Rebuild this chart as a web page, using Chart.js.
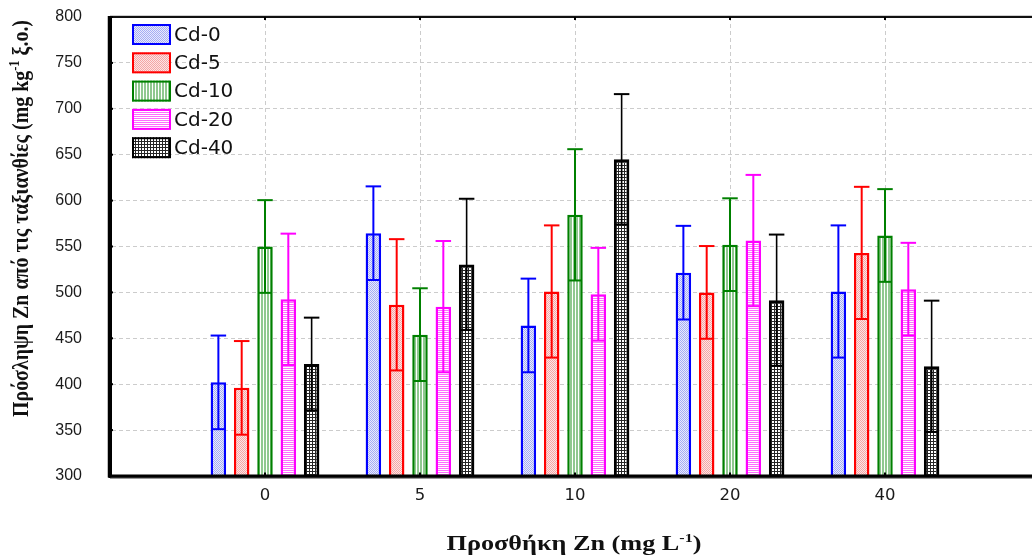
<!DOCTYPE html>
<html><head><meta charset="utf-8">
<script src="https://cdn.jsdelivr.net/npm/chart.js@4"></script>
<style>html,body{margin:0;padding:0;overflow:hidden;background:#fff}
#wrap{position:relative;width:1040px;height:556px}</style></head>
<body><div id="wrap"><canvas id="c" width="1040" height="556"></canvas></div>
<script>
// ---- data ----
const categories = ['0', '5', '10', '20', '40'];
const seriesNames = ['Cd-0', 'Cd-5', 'Cd-10', 'Cd-20', 'Cd-40'];
const cd0    = [402, 564.5, 464, 521.5, 501];
const cd0Err = [51, 51, 51, 51, 72];
const cd5    = [396, 486.5, 501, 500, 543];
const cd5Err = [51, 71.5, 72, 50.5, 72];
const cd10    = [550, 454, 584.5, 552, 562];
const cd10Err = [50.5, 50.5, 71.5, 50.5, 50.5];
const cd20    = [492.5, 484.5, 498, 556.5, 503.5];
const cd20Err = [71.5, 71.5, 50.5, 71.5, 50.5];
const cd40    = [422, 530.5, 645, 491.5, 419.5];
const cd40Err = [50.5, 71.5, 71, 71.5, 71.5];
const yMin = 300, yMax = 800, yStep = 50;
const xTitleParts = [['Προσθήκη Zn (mg L', false], ['-1', true], [')', false]];
const yTitleParts = [['Πρόσληψη Zn από τις ταξιανθίες (mg kg', false], ['-1', true], [' ξ.ο.)', false]];

// ---- styling ----
const canvas = document.getElementById('c');
const mainCtx = canvas.getContext('2d');
function makePattern(w, h, fn) {
  const c = document.createElement('canvas'); c.width = w; c.height = h;
  const g = c.getContext('2d'); fn(g); return mainCtx.createPattern(c, 'repeat');
}
const patBlue = makePattern(2, 2, g => { g.fillStyle = '#e8eafd'; g.fillRect(0,0,2,2); g.fillStyle = '#a6adf3'; g.fillRect(0,0,1,1); g.fillRect(1,1,1,1); });
const patRed = makePattern(2, 2, g => { g.fillStyle = '#fde4e4'; g.fillRect(0,0,2,2); g.fillStyle = '#f4a6a6'; g.fillRect(0,0,1,1); g.fillRect(1,1,1,1); });
const patGreen = makePattern(3, 1, g => { g.fillStyle = '#ffffff'; g.fillRect(0,0,3,1); g.fillStyle = '#90c890'; g.fillRect(0,0,2,1); });
const patMag = makePattern(1, 2, g => { g.fillStyle = '#ffffff'; g.fillRect(0,0,1,2); g.fillStyle = '#ff6cff'; g.fillRect(0,0,1,1); });
const patBlack = makePattern(3, 3, g => { g.fillStyle = '#262626'; g.fillRect(0,0,3,3); g.fillStyle = '#ffffff'; g.fillRect(1,1,2,2); });

const colors = ['#0000ff', '#ff0000', '#008000', '#ff00ff', '#000000'];
const fills = [patBlue, patRed, patGreen, patMag, patBlack];
const values = [cd0, cd5, cd10, cd20, cd40];
const errs = [cd0Err, cd5Err, cd10Err, cd20Err, cd40Err];

const xLabels = [''].concat(categories, ['']);
const pad = arr => [null].concat(arr, [null]);

const datasets = seriesNames.map((name, i) => ({
  label: name,
  data: pad(values[i]),
  errors: pad(errs[i]),
  backgroundColor: fills[i],
  borderColor: colors[i],
  borderWidth: i === 4 ? 3 : 2.5,
  borderSkipped: 'start',
  categoryPercentage: 0.752,
  barPercentage: 0.665
}));

function drawRich(ctx, parts, cx, baseY, targetLen, rotate, size, supSize, raise) {
  const mainFont = 'bold ' + size + 'px "Liberation Serif", "Times New Roman", serif';
  const supFont = 'bold ' + supSize + 'px "Liberation Serif", "Times New Roman", serif';
  let total = 0;
  const widths = parts.map(p => { ctx.font = p[1] ? supFont : mainFont; const w = ctx.measureText(p[0]).width; total += w; return w; });
  ctx.save();
  ctx.translate(cx, baseY);
  if (rotate) ctx.rotate(-Math.PI / 2);
  ctx.scale(targetLen / total, 1);
  ctx.fillStyle = '#111';
  ctx.textBaseline = 'alphabetic';
  ctx.textAlign = 'left';
  let x = -total / 2;
  parts.forEach((p, k) => {
    ctx.font = p[1] ? supFont : mainFont;
    ctx.fillText(p[0], x, p[1] ? -raise : 0);
    x += widths[k];
  });
  ctx.restore();
}

const decor = {
  id: 'decor',
  beforeDatasetsDraw(chart) {
    const ctx = chart.ctx, xs = chart.scales.x, a = chart.chartArea;
    ctx.save();
    ctx.strokeStyle = '#cccccc'; ctx.lineWidth = 1; ctx.setLineDash([4, 3]);
    for (let k = 1; k <= categories.length; k++) {
      const x = Math.round(xs.getPixelForTick(k)) + 0.5;
      ctx.beginPath(); ctx.moveTo(x, a.top); ctx.lineTo(x, a.bottom); ctx.stroke();
    }
    ctx.restore();
  },
  afterDatasetsDraw(chart) {
    const ctx = chart.ctx, ys = chart.scales.y, xs = chart.scales.x, a = chart.chartArea;
    chart.data.datasets.forEach((ds, i) => {
      const meta = chart.getDatasetMeta(i);
      meta.data.forEach((el, j) => {
        const v = ds.data[j], e = ds.errors[j];
        if (v == null) return;
        const x = el.x, w = el.width;
        const yt = ys.getPixelForValue(v + e), yb = ys.getPixelForValue(v - e);
        ctx.save();
        ctx.strokeStyle = ds.borderColor;
        ctx.lineWidth = i === 4 ? 1.6 : 2;
        ctx.beginPath(); ctx.moveTo(x, yb); ctx.lineTo(x, yt); ctx.stroke();
        ctx.lineWidth = 2;
        ctx.beginPath(); ctx.moveTo(x - w / 2, yt); ctx.lineTo(x + w / 2, yt); ctx.stroke();
        ctx.beginPath(); ctx.moveTo(x - w / 2 + 1, yb); ctx.lineTo(x + w / 2 - 1, yb); ctx.stroke();
        ctx.restore();
      });
    });
    ctx.save();
    ctx.strokeStyle = '#cfcfcf'; ctx.lineWidth = 1;
    ctx.beginPath(); ctx.moveTo(a.left, a.top - 1.5); ctx.lineTo(a.right, a.top - 1.5); ctx.stroke();
    ctx.strokeStyle = '#111'; ctx.lineWidth = 2;
    ctx.beginPath(); ctx.moveTo(a.left, a.top); ctx.lineTo(a.right, a.top); ctx.stroke();
    ctx.strokeStyle = '#9a9a9a'; ctx.lineWidth = 1.5;
    ctx.beginPath(); ctx.moveTo(a.left, a.bottom + 2.2); ctx.lineTo(a.right, a.bottom + 2.2); ctx.stroke();
    ctx.strokeStyle = '#000'; ctx.lineWidth = 2.8;
    ctx.beginPath(); ctx.moveTo(a.left - 2, a.bottom); ctx.lineTo(a.right, a.bottom); ctx.stroke();
    ctx.lineWidth = 3.5;
    ctx.beginPath(); ctx.moveTo(a.left - 0.5, a.top - 1); ctx.lineTo(a.left - 0.5, a.bottom + 1.5); ctx.stroke();
    ctx.lineWidth = 2;
    ys.ticks.forEach((t, k) => {
      const y = ys.getPixelForTick(k);
      ctx.beginPath(); ctx.moveTo(a.left, y); ctx.lineTo(a.left + 3, y); ctx.stroke();
    });
    for (let k = 1; k <= categories.length; k++) {
      const x = xs.getPixelForTick(k);
      ctx.beginPath(); ctx.moveTo(x, a.bottom); ctx.lineTo(x, a.bottom - 3.5); ctx.stroke();
      ctx.beginPath(); ctx.moveTo(x, a.top); ctx.lineTo(x, a.top + 3); ctx.stroke();
    }
    ctx.restore();
  },
  afterDraw(chart) {
    const ctx = chart.ctx;
    ctx.save();
    chart.data.datasets.forEach((ds, i) => {
      const bx = 132, by = 24 + i * 28.3, bw = 39, bh = 21;
      ctx.fillStyle = '#fff';
      ctx.fillRect(bx, by, bw, bh);
      ctx.fillStyle = ds.backgroundColor;
      ctx.fillRect(bx, by, bw, bh);
      ctx.strokeStyle = ds.borderColor; ctx.lineWidth = 2;
      ctx.strokeRect(bx + 1, by + 1, bw - 2, bh - 2);
      ctx.fillStyle = '#111';
      ctx.font = '20px "DejaVu Sans", sans-serif';
      ctx.textBaseline = 'middle'; ctx.textAlign = 'left';
      ctx.fillText(ds.label, 174, by + bh / 2 + 1);
    });
    ctx.restore();
    drawRich(ctx, xTitleParts, 574, 550, 255, false, 22, 13.5, 8.5);
    drawRich(ctx, yTitleParts, 28, 218.5, 397, true, 24, 15, 9);
  }
};

new Chart(canvas, {
  type: 'bar',
  data: { labels: xLabels, datasets },
  plugins: [decor],
  options: {
    responsive: false,
    animation: false,
    events: [],
    layout: { padding: { top: 17, left: 0, right: 0, bottom: 0 } },
    plugins: { legend: { display: false }, tooltip: { enabled: false } },
    scales: {
      x: {
        type: 'category',
        offset: false,
        grid: { display: false, offset: false, drawTicks: false },
        border: { display: true, color: '#000', width: 3 },
        ticks: { padding: 10, autoSkip: false, maxRotation: 0, color: '#1a1a1a',
                 font: { family: '"DejaVu Sans", sans-serif', size: 16.5 } },
        afterFit(s) { s.height = 80; s.paddingLeft = 0; s.paddingRight = 0; }
      },
      y: {
        min: yMin, max: yMax,
        grid: { color: '#cccccc', lineWidth: 1, drawTicks: false },
        border: { display: true, color: '#000', width: 3, dash: [4, 3] },
        ticks: { stepSize: yStep, padding: 28, color: '#1a1a1a',
                 font: { family: '"Liberation Sans", Arial, sans-serif', size: 16 } },
        afterFit(s) { s.width = 110; s.paddingTop = 0; s.paddingBottom = 0; }
      }
    }
  }
});
</script>
</body></html>
